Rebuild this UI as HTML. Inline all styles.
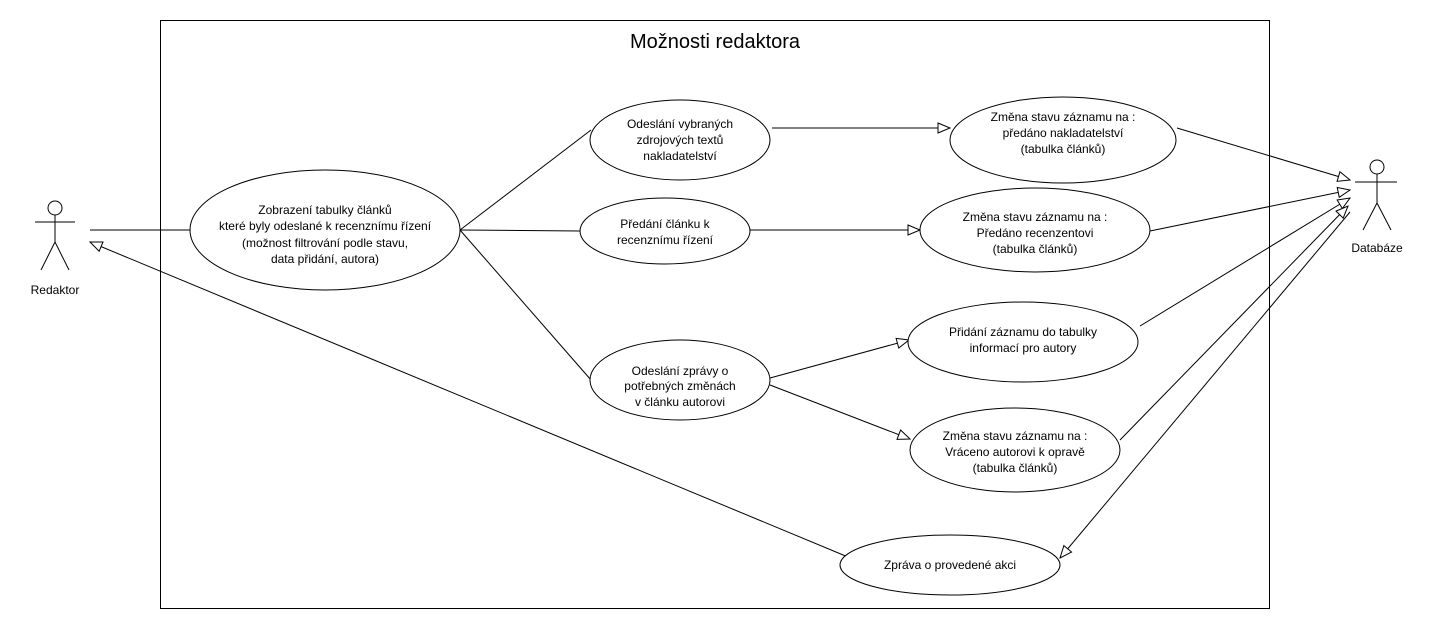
<!DOCTYPE html>
<html><head><meta charset="utf-8"><style>
body{margin:0;background:#fff;}
svg{display:block;font-family:"Liberation Sans",Arial,sans-serif;}
</style></head><body>
<svg width="1430" height="630" viewBox="0 0 1430 630" xmlns="http://www.w3.org/2000/svg">
<defs>
<marker id="a" markerWidth="14" markerHeight="12" refX="13" refY="6" orient="auto" markerUnits="userSpaceOnUse">
<path d="M1,1 L13,6 L1,11 Z" fill="#fff" stroke="#000" stroke-width="1"/>
</marker>
</defs>
<rect x="160.5" y="20.5" width="1109" height="588" fill="#fff" stroke="#000"/>
<text x="715" y="48" font-size="20" text-anchor="middle">Možnosti redaktora</text>
<g stroke="#000" fill="none" stroke-width="1">
<circle cx="55" cy="208" r="7"/>
<line x1="55" y1="215" x2="55" y2="242"/>
<line x1="35" y1="222" x2="75" y2="222"/>
<line x1="55" y1="242" x2="41" y2="270"/>
<line x1="55" y1="242" x2="69" y2="270"/>
<circle cx="1377" cy="167" r="7"/>
<line x1="1377" y1="174" x2="1377" y2="203"/>
<line x1="1355" y1="182" x2="1397" y2="182"/>
<line x1="1377" y1="203" x2="1363" y2="230"/>
<line x1="1377" y1="203" x2="1391" y2="230"/>

<line x1="90" y1="230" x2="190" y2="230"/>
<line x1="460" y1="230" x2="591" y2="130"/>
<line x1="460" y1="230" x2="580" y2="231"/>
<line x1="460" y1="230" x2="591" y2="380"/>
<line x1="772" y1="128" x2="950" y2="128" marker-end="url(#a)"/>
<line x1="750" y1="230" x2="920" y2="230" marker-end="url(#a)"/>
<line x1="770" y1="378" x2="909" y2="340" marker-end="url(#a)"/>
<line x1="770" y1="385" x2="910" y2="439" marker-end="url(#a)"/>
<line x1="1177" y1="128" x2="1350" y2="180" marker-end="url(#a)"/>
<line x1="1150" y1="231" x2="1350" y2="190" marker-end="url(#a)"/>
<line x1="1140" y1="326" x2="1350" y2="198" marker-end="url(#a)"/>
<line x1="1120" y1="440" x2="1348" y2="206" marker-end="url(#a)"/>
<line x1="1350" y1="212" x2="1060" y2="558" marker-end="url(#a)"/>
<line x1="848" y1="557" x2="90" y2="242" marker-end="url(#a)"/>
</g>
<g stroke="#000" fill="#fff">
<ellipse cx="325" cy="230" rx="135" ry="60"/>
<ellipse cx="680" cy="140" rx="90" ry="40"/>
<ellipse cx="665" cy="231" rx="85" ry="33"/>
<ellipse cx="680" cy="380" rx="90" ry="40"/>
<ellipse cx="1063" cy="140" rx="113" ry="43"/>
<ellipse cx="1035" cy="230" rx="115" ry="42"/>
<ellipse cx="1023" cy="342" rx="115" ry="40"/>
<ellipse cx="1015" cy="450" rx="105" ry="42"/>
<ellipse cx="950" cy="565" rx="110" ry="30"/>
</g>
<g font-size="12" text-anchor="middle" fill="#000">
<text x="55" y="294">Redaktor</text>
<text x="1377" y="252">Databáze</text>
<text x="325" y="214">Zobrazení tabulky článků</text>
<text x="325" y="230">které byly odeslané k recenznímu řízení</text>
<text x="325" y="247">(možnost filtrování podle stavu,</text>
<text x="325" y="263">data přidání, autora)</text>
<text x="680" y="128">Odeslání vybraných</text>
<text x="680" y="144">zdrojových textů</text>
<text x="680" y="160">nakladatelství</text>
<text x="665" y="228">Předání článku k</text>
<text x="665" y="244">recenznímu řízení</text>
<text x="680" y="375">Odeslání zprávy o</text>
<text x="680" y="390">potřebných změnách</text>
<text x="680" y="406">v článku autorovi</text>
<text x="1063" y="121">Změna stavu záznamu na :</text>
<text x="1063" y="137">předáno nakladatelství</text>
<text x="1063" y="153">(tabulka článků)</text>
<text x="1035" y="221">Změna stavu záznamu na :</text>
<text x="1035" y="237">Předáno recenzentovi</text>
<text x="1035" y="253">(tabulka článků)</text>
<text x="1023" y="336">Přidání záznamu do tabulky</text>
<text x="1023" y="352">informací pro autory</text>
<text x="1015" y="440">Změna stavu záznamu na :</text>
<text x="1015" y="456">Vráceno autorovi k opravě</text>
<text x="1015" y="472">(tabulka článků)</text>
<text x="950" y="569">Zpráva o provedené akci</text>
</g>
</svg>
</body></html>
